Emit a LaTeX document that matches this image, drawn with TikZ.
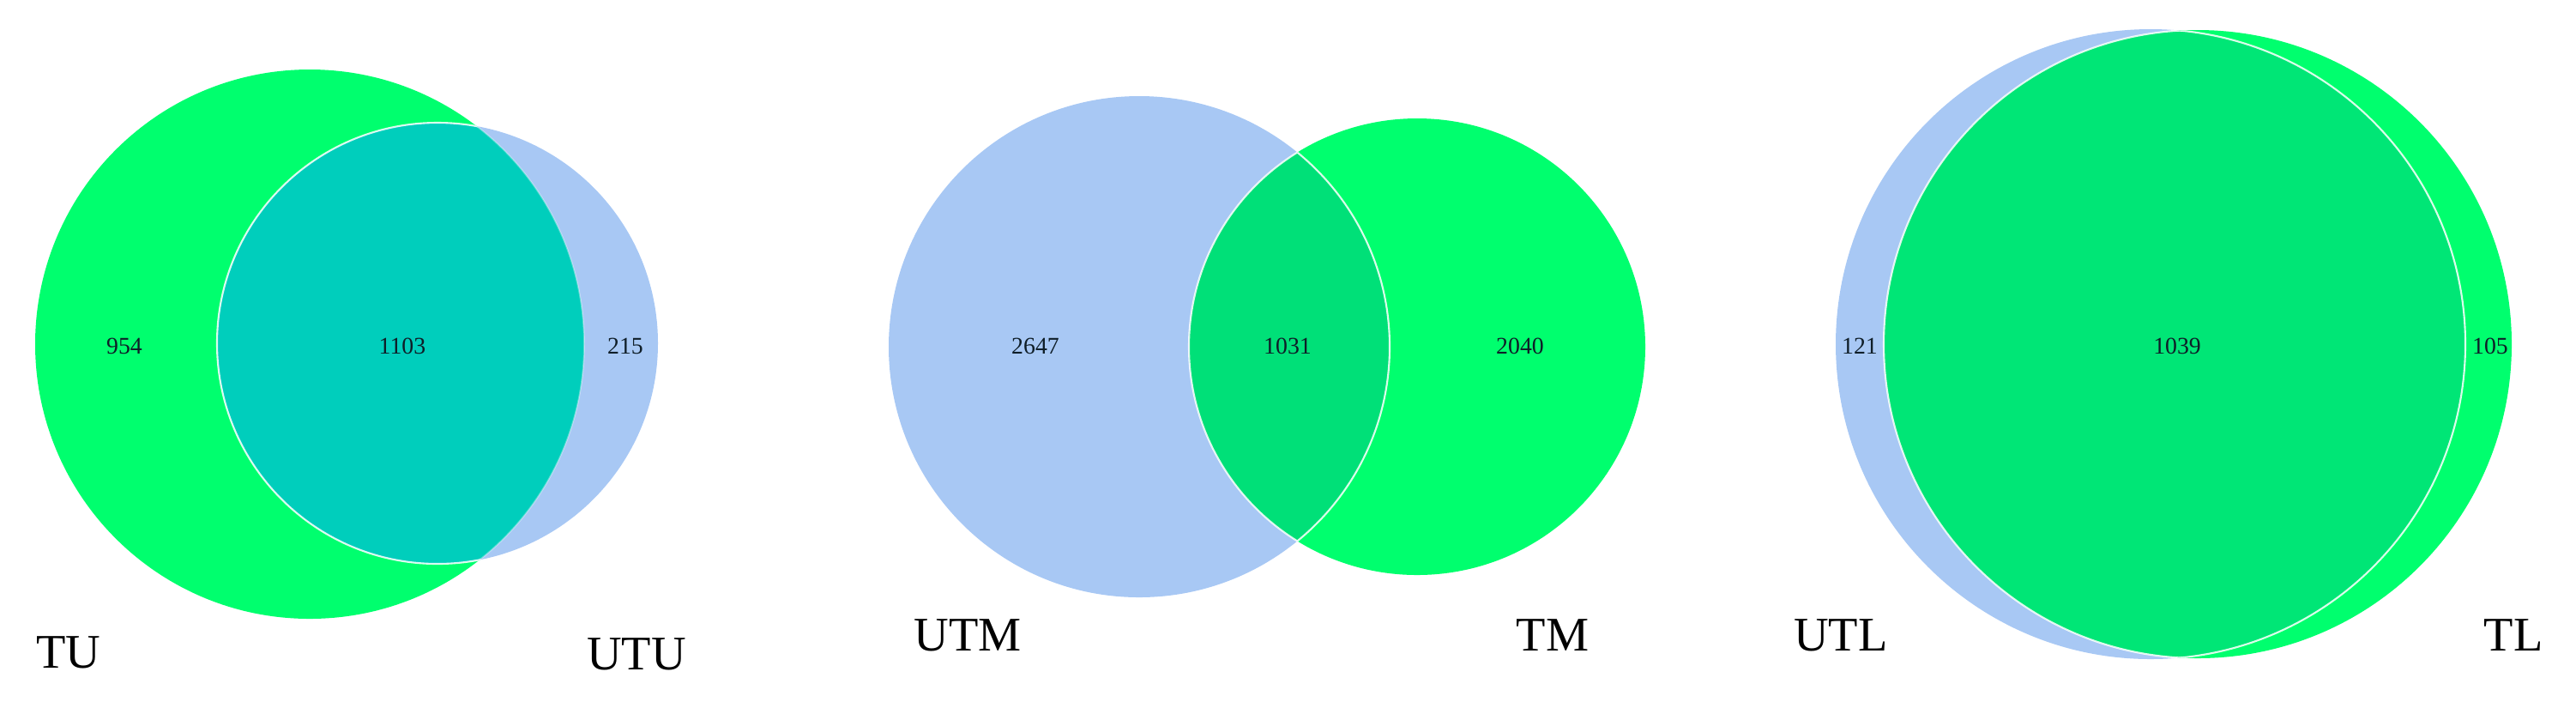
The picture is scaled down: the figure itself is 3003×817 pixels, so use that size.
\documentclass[tikz,border=0pt]{standalone}
\usepackage{fontspec}
\setmainfont{Liberation Serif}
\definecolor{vgreen}{RGB}{0,255,110}
\definecolor{vblue}{RGB}{168,200,244}
\definecolor{vteal}{RGB}{0,206,188}
\definecolor{vlens}{RGB}{0,224,120}
\definecolor{vlensb}{RGB}{0,230,118}
\definecolor{numcol}{RGB}{15,30,40}
\begin{document}
\begin{tikzpicture}[x=0.01cm,y=-0.01cm,
  num/.style={font=\fontsize{7.9}{9}\selectfont, text=numcol, inner sep=0pt},
  lab/.style={font=\fontsize{16}{18}\selectfont, text=black, inner sep=0pt},
  edge/.style={draw=white, line width=0.6pt, draw opacity=0.85},
  faint/.style={draw=white, line width=0.5pt, draw opacity=0.35}]
\useasboundingbox (0,0) rectangle (3003,817);

% ---------- Diagram 1: TU / UTU ----------
\fill[vgreen] (361,401) circle (320);
\fill[vblue] (510,400) circle (257);
\begin{scope}
  \clip (361,401) circle (320);
  \fill[vteal] (510,400) circle (257);
  \draw[edge] (510,400) circle (257);
\end{scope}
\begin{scope}
  \clip (510,400) circle (257);
  \draw[faint] (361,401) circle (320);
\end{scope}
\node[num] (n954) at (145,403) {954};
\node[num] (n1103) at (469,403) {1103};
\node[num] (n215) at (729,403) {215};
\node[lab] (tu) at (80,760) {TU};
\node[lab] (utu) at (742,762) {UTU};

% ---------- Diagram 2: UTM / TM ----------
\fill[vblue] (1328,404) circle (292);
\fill[vgreen] (1652,404) circle (266);
\begin{scope}
  \clip (1328,404) circle (292);
  \fill[vlens] (1652,404) circle (266);
  \draw[edge] (1652,404) circle (266);
\end{scope}
\begin{scope}
  \clip (1652,404) circle (266);
  \draw[edge] (1328,404) circle (292);
\end{scope}
\node[num] (n2647) at (1207,403) {2647};
\node[num] (n1031) at (1501,403) {1031};
\node[num] (n2040) at (1772,403) {2040};
\node[lab] (utm) at (1128,740) {UTM};
\node[lab] (tm) at (1810,740) {TM};

% ---------- Diagram 3: UTL / TL ----------
\fill[vblue] (2507,401) circle (367);
\fill[vgreen] (2562,401) circle (366);
\begin{scope}
  \clip (2507,401) circle (367);
  \fill[vlensb] (2562,401) circle (366);
  \draw[edge] (2562,401) circle (366);
\end{scope}
\begin{scope}
  \clip (2562,401) circle (366);
  \draw[edge] (2507,401) circle (367);
\end{scope}
\node[num] (n121) at (2168,403) {121};
\node[num] (n1039) at (2538,403) {1039};
\node[num] (n105) at (2903,403) {105};
\node[lab] (utl) at (2146,740) {UTL};
\node[lab] (tl) at (2930,740) {TL};
\end{tikzpicture}
\end{document}
